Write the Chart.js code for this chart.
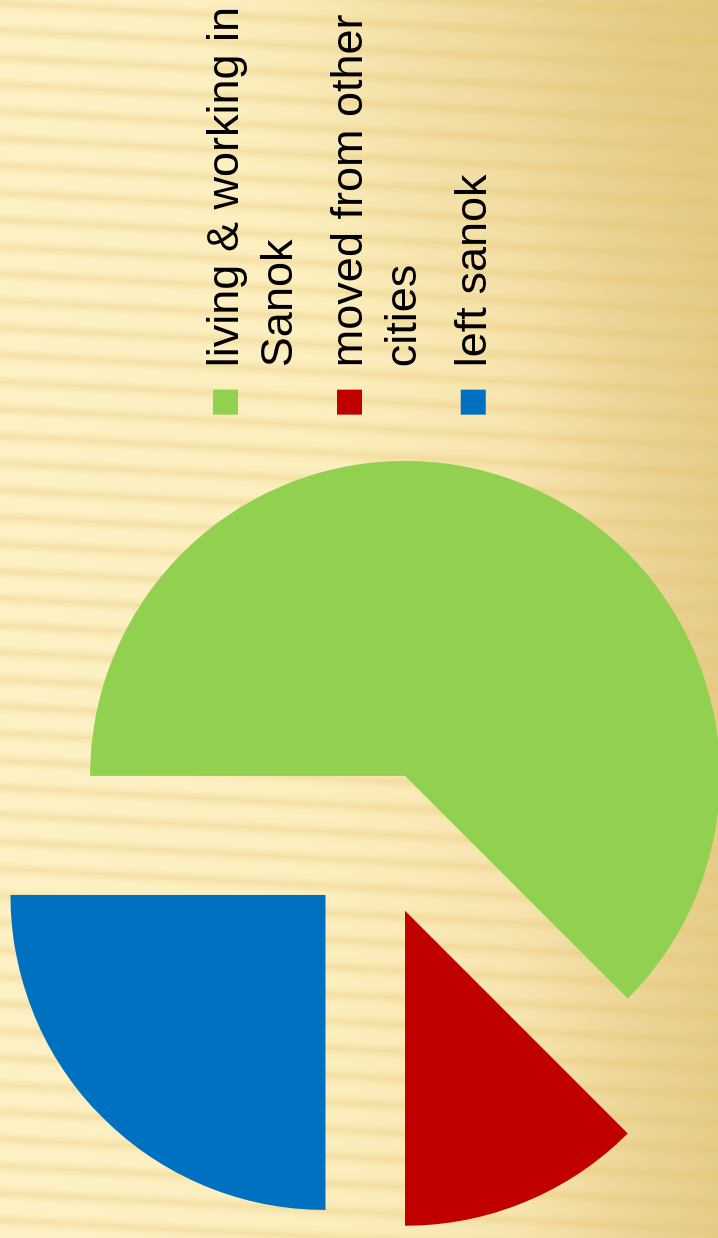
<!DOCTYPE html>
<html>
<head>
<meta charset="utf-8">
<script src="https://cdn.jsdelivr.net/npm/chart.js@4/dist/chart.umd.min.js"></script>
<style>
  html, body {
    margin: 0;
    width: 718px;
    height: 1238px;
    overflow: hidden;
  }
  body {
    position: relative;
    background:
      repeating-linear-gradient(183deg, rgba(228, 193, 105, 0) 0px, rgba(228, 193, 105, 0.05) 7px, rgba(228, 193, 105, 0.32) 14px, rgba(228, 193, 105, 0.05) 21px, rgba(228, 193, 105, 0) 27px),
      radial-gradient(ellipse 520px 420px at 718px 0px, rgba(222, 196, 120, 0.65), rgba(222, 196, 120, 0)),
      linear-gradient(to right, #fdf2c7 0%, #fcefc0 45%, #f7e5b0 72%, #eed79a 86%, #e5cc88 100%);
  }
  /* the slide is turned a quarter turn to the left; the canvas is 40px wider than the page */
  #stage {
    position: absolute;
    left: 0;
    top: 0;
    width: 1278px;
    height: 718px;
    transform-origin: 0 0;
    transform: translate(0, 1278px) rotate(-90deg);
  }
</style>
</head>
<body>
<div id="stage"><canvas id="pieChart" width="1278" height="718"></canvas></div>
<script>
const categories = [['living & working in', 'Sanok'], ['moved from other', 'cities'], 'left sanok'];
const shares = [62.5, 12.5, 25];
const colours = ['#92D050', '#C00000', '#0070C0'];

const legendFont = { family: '"Liberation Sans", Arial, sans-serif', size: 45, lineHeight: 1.21 };

// pull every slice out from the centre along its middle angle
const explodePlugin = {
    id: 'explode',
    afterDatasetUpdate(chart, args) {
        const dist = 73;
        args.meta.data.forEach(arc => {
            const mid = (arc.startAngle + arc.endAngle) / 2;
            arc.x += Math.cos(mid) * dist;
            arc.y += Math.sin(mid) * dist;
        });
    }
};

const ctx = document.getElementById('pieChart').getContext('2d');

// legend width so that it starts at x = 848
ctx.font = legendFont.size + 'px ' + legendFont.family;
let longest = 0;
categories.flat().forEach(t => { longest = Math.max(longest, ctx.measureText(t).width); });
const legendW = 15 + 25 + legendFont.size / 2 + longest + 10;
const rightPad = Math.round(1278 - 848 - legendW);

new Chart(ctx, {
    type: 'pie',
    data: {
        labels: categories,
        datasets: [{
            data: shares,
            backgroundColor: colours,
            borderWidth: 0,
            radius: 315,
            clip: false
        }]
    },
    options: {
        responsive: false,
        animation: false,
        events: [],
        layout: {
            padding: { left: 21, right: rightPad, top: 188, bottom: 152 }
        },
        plugins: {
            legend: {
                position: 'right',
                align: 'start',
                labels: {
                    boxWidth: 25,
                    boxHeight: 25,
                    padding: 15,
                    color: '#000',
                    font: legendFont
                }
            },
            tooltip: { enabled: false }
        }
    },
    plugins: [explodePlugin]
});
</script>
</body>
</html>
